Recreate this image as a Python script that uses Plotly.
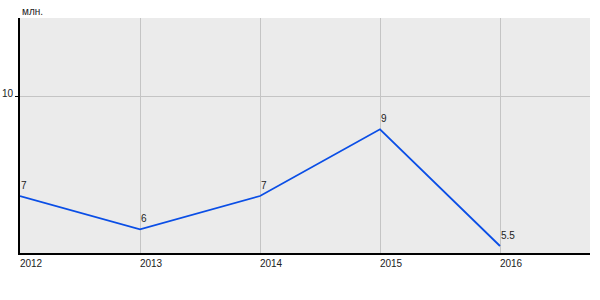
import plotly.graph_objects as go

years = [2012, 2013, 2014, 2015, 2016]
values = [7, 6, 7, 9, 5.5]
labels = ["7", "6", "7", "9", "5.5"]
y_ticks = [10]
y_unit = "млн."

fig = go.Figure()
fig.add_trace(go.Scatter(
    x=years, y=values, mode="lines",
    line=dict(color="#0a4ee6", width=1.8),
    cliponaxis=False, hoverinfo="skip",
))

annotations = [dict(
    text=lab, x=xv, y=yv, xref="x", yref="y",
    xanchor="left", yanchor="bottom", yshift=3, xshift=-1, showarrow=False,
    font=dict(size=10, color="#222222"),
) for xv, yv, lab in zip(years, values, labels)]
annotations.append(dict(
    text=y_unit, xref="paper", yref="paper", x=0, y=1,
    xanchor="left", yanchor="bottom", yshift=-1, showarrow=False,
    font=dict(size=10, color="#222222"),
))

fig.update_layout(
    width=600, height=300,
    margin=dict(l=20, r=10, t=18, b=47),
    paper_bgcolor="white", plot_bgcolor="#ebebeb",
    showlegend=False,
    font=dict(family="Liberation Sans, Arial", size=10, color="#222222"),
    xaxis=dict(
        range=[2012, 2016.75], tickvals=years, ticktext=[str(y) for y in years],
        showgrid=True, gridcolor="#c4c4c4", gridwidth=1,
        showline=True, linecolor="black", linewidth=2,
        zeroline=False, ticks="", ticklabelshift=11, ticklabelstandoff=0,
        automargin=False,
    ),
    yaxis=dict(
        range=[5.29, 12.34], tickvals=y_ticks, ticktext=[str(v) for v in y_ticks],
        showgrid=True, gridcolor="#c4c4c4", gridwidth=1,
        showline=True, linecolor="black", linewidth=2,
        zeroline=False, ticks="outside", ticklen=3, tickcolor="black",
        ticklabelshift=-3, ticklabelstandoff=0, automargin=False,
    ),
    annotations=annotations,
)

fig.write_html("out.html")
